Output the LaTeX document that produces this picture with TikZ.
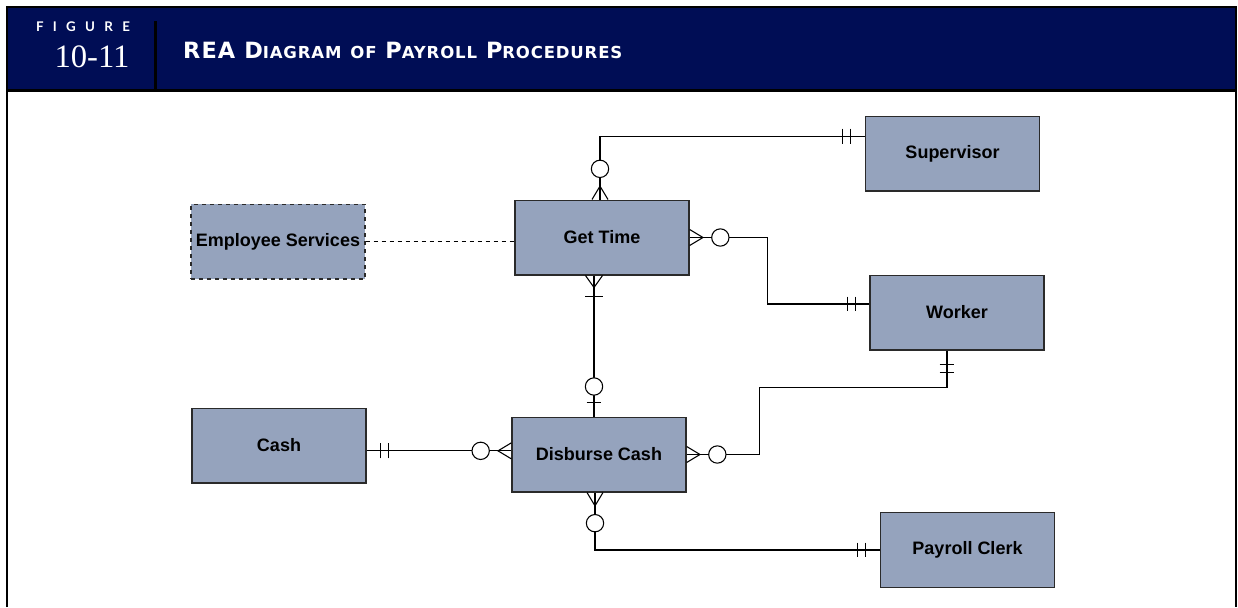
\documentclass[tikz,border=0pt]{standalone}
\usepackage{fontspec}
\setmainfont{Liberation Sans}
\newfontfamily\headfont[LetterSpace=5]{DejaVu Sans}
\newfontfamily\spacedfont[LetterSpace=70]{Lato}
\newfontfamily\numfont{Liberation Serif}
\usetikzlibrary{calc,decorations.markings}
\definecolor{navy}{HTML}{000D55}
\definecolor{entityblue}{HTML}{95A3BD}
\definecolor{boxline}{HTML}{2A2A2A}
\newcommand{\figword}[1]{{\spacedfont\fontsize{10}{12}\selectfont\bfseries\color{white}#1}}
\newcommand{\fignumber}[1]{{\numfont\fontsize{24.5}{28}\selectfont\color{white}#1}}
\newcommand{\fsc}[1]{{\fontsize{12.4}{14}\selectfont #1}}
\newcommand{\figtitle}[1]{{\headfont\fontsize{16.8}{19}\selectfont\bfseries\color{white}#1}}
\newcommand{\erbars}{\draw (-10.5pt,-5.6pt) -- ++(0,11.2pt) (-16.5pt,-5.6pt) -- ++(0,11.2pt);}
\newcommand{\ercrowring}{\draw (0,6pt) -- (-10pt,0) -- (0,-6pt); \draw[fill=white] (-23pt,0) circle[radius=6.5pt];}
\newcommand{\ercrowbar}{\draw (0,6.4pt) -- (-9pt,0) -- (0,-6.4pt); \draw (-15.75pt,-6.4pt) -- ++(0,12.8pt);}
\newcommand{\erbarring}{\draw (-10.5pt,-5.6pt) -- ++(0,11.2pt); \draw[fill=white] (-22.5pt,0) circle[radius=6.5pt];}
\tikzset{
  entity/.style={draw=boxline, line width=1pt, fill=entityblue, minimum width=130.5pt,
    minimum height=56pt, inner sep=0pt, font=\bfseries\fontsize{13.5}{16}\selectfont},
  agent/.style={entity, dashed},
  rel/.style={line width=0.8pt},
  tip end/.style={postaction={decorate, decoration={markings, mark=at position 1 with {#1}}}},
  tip start/.style={postaction={decorate, decoration={markings,
    mark=at position 0 with {\begin{scope}[xscale=-1]#1\end{scope}}}}}
}

\begin{document}
\begin{tikzpicture}[x=0.75pt, y=-0.75pt]
\useasboundingbox (0,0) rectangle (1238,607);
\fill[navy] (7,7) rectangle (1236,90);
\draw[line width=2.2pt] (7,607) -- (7,7) -- (1236,7) -- (1236,607);
\draw[line width=2.2pt] (7,90.5) -- (1236,90.5);
\draw[line width=2.2pt] (155.5,21) -- (155.5,90);
\node (figword) at (83,27) {\figword{FIGURE}};
\node (fignum) at (92,57) {\fignumber{10-11}};
\node[anchor=west] (figtitle) at (178.5,50.5)
  {\figtitle{REA D\fsc{IAGRAM} \fsc{OF} P\fsc{AYROLL} P\fsc{ROCEDURES}}};

\node[entity] (supervisor) at (952.5,153.5) {Supervisor};
\node[entity] (gettime) at (602,237.5) {Get Time};
\node[agent] (empserv) at (278,241.5) {Employee Services};
\node[entity] (worker) at (957,312.5) {Worker};
\node[entity] (cash) at (279,445.5) {Cash};
\node[entity] (disburse) at (599,454.5) {Disburse Cash};
\node[entity] (payroll) at (967.5,550) {Payroll Clerk};

\draw[rel, tip start=\erbars, tip end=\ercrowring]
  ([yshift=13pt]supervisor.west) -| ([xshift=-1.5pt]gettime.north);
\draw[rel, tip start=\erbars, tip end=\ercrowring]
  ([yshift=6.4pt]worker.west) -| ($(gettime.east)+(78,0)$) -- (gettime.east);
\draw[rel, tip start=\ercrowbar, tip end=\erbarring]
  ([xshift=-6pt]gettime.south) -- ([xshift=-6pt]gettime.south |- disburse.north);
\draw[rel, tip start=\erbars, tip end=\ercrowring]
  ([yshift=-4pt]cash.east) -- ([yshift=-4pt]cash.east -| disburse.west);
\draw[rel, tip start=\erbars, tip end=\ercrowring]
  ([xshift=-7.5pt]worker.south) -- ++(0,37) -| ($(disburse.east)+(73,0)$) -- (disburse.east);
\draw[rel, tip start=\erbars, tip end=\ercrowring]
  (payroll.west) -| ([xshift=-3pt]disburse.south);
\draw[rel, dashed] (empserv.east) -- (empserv.east -| gettime.west);
\end{tikzpicture}
\end{document}
